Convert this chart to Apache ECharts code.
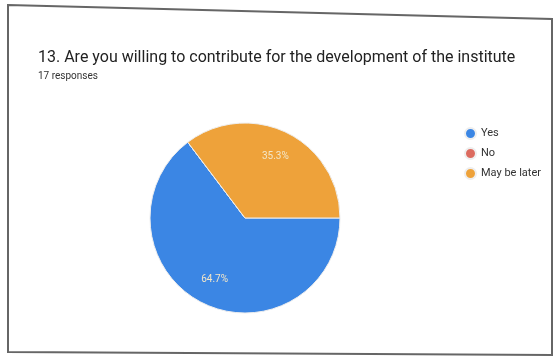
<!DOCTYPE html>
<html><head><meta charset="utf-8">
<script src="https://cdn.jsdelivr.net/npm/echarts@6/dist/echarts.min.js"></script>
<style>html,body{margin:0;padding:0;background:#fff}#c{width:553px;height:358px}</style>
</head><body><div id="c"></div>
<script>
var categories = ['Yes', 'No', 'May be later'];
var counts = [11, 0, 6];
var colors = ['#3b86e4', '#dc6b5f', '#eea23a'];
var titleText = '13. Are you willing to contribute for the development of the institute';
var subText = '17 responses';

var CX = 245, CY = 218;
var chart = echarts.init(document.getElementById('c'), null, {renderer: 'canvas'});
chart.setOption({
  backgroundColor: '#fff',
  animation: false,
  title: {
    text: titleText, subtext: subText, left: 33, top: 45, itemGap: 5,
    textStyle: {fontFamily: 'Roboto', fontSize: 16, fontWeight: 'normal', color: '#222'},
    subtextStyle: {fontFamily: 'Roboto', fontSize: 10, color: '#333'}
  },
  legend: {
    orient: 'vertical', left: 459, top: 122, itemGap: 7,
    icon: 'circle', itemWidth: 11, itemHeight: 11,
    data: categories,
    textStyle: {fontFamily: 'Roboto', fontSize: 11, color: '#333'}
  },
  graphic: [{
    type: 'polygon', silent: true, z: 100,
    shape: {points: [[8, 5], [552, 19], [552, 355], [8, 352]]},
    style: {fill: 'none', stroke: '#666', lineWidth: 2}
  }],
  series: [{
    type: 'pie', center: [CX, CY], radius: 95, startAngle: 0, clockwise: true,
    data: categories.map(function (c, i) { return {name: c, value: counts[i], itemStyle: {color: colors[i]}}; }),
    itemStyle: {borderColor: '#eee', borderWidth: 1},
    label: {position: 'inside', formatter: function (p) { return p.value > 0 ? p.percent.toFixed(1) + '%' : ''; },
      fontFamily: 'Roboto', fontSize: 10, color: '#f3e6c8'},
    labelLayout: function (p) {
      var r = p.labelRect;
      var lx = r.x + r.width / 2, ly = r.y + r.height / 2;
      return {x: CX + (lx - CX) * 1.35, y: CY + (ly - CY) * 1.35, align: 'center', verticalAlign: 'middle'};
    },
    labelLine: {show: false},
    emphasis: {disabled: true}
  }]
});
</script></body></html>
